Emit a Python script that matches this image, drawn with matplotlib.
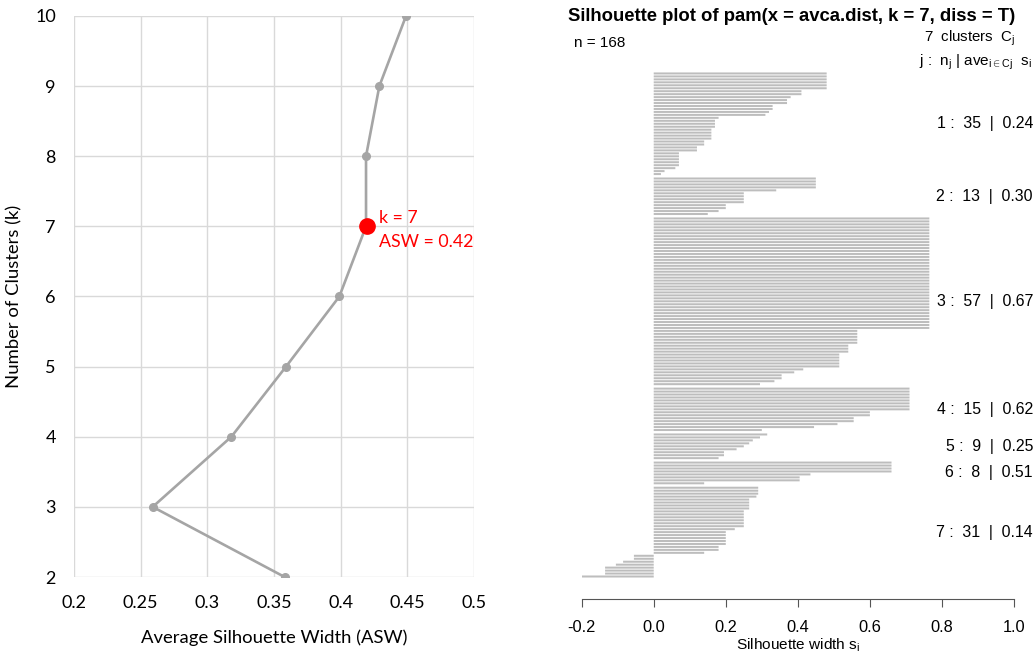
import matplotlib
matplotlib.use('Agg')
import matplotlib.pyplot as plt
from matplotlib.transforms import blended_transform_factory

# left panel: ASW per k
k_values = [2, 3, 4, 5, 6, 7, 8, 9, 10]
asw = [0.358, 0.259, 0.318, 0.359, 0.399, 0.419, 0.419, 0.429, 0.449]
best_k = 7
best_asw = 0.42

# right panel: silhouette widths per cluster (sorted as in the plot)
sil_c1 = [0.48, 0.48, 0.48, 0.48, 0.48, 0.48, 0.41, 0.41, 0.38, 0.37, 0.37, 0.33,
          0.33, 0.32, 0.31, 0.18, 0.17, 0.17, 0.17, 0.16, 0.16, 0.16, 0.16, 0.14,
          0.14, 0.12, 0.12, 0.07, 0.07, 0.07, 0.07, 0.07, 0.06, 0.03, 0.02]
sil_c2 = [0.45, 0.45, 0.45, 0.45, 0.34, 0.25, 0.25, 0.25, 0.25, 0.20, 0.20, 0.18, 0.15]
sil_c3 = [0.765, 0.765, 0.765, 0.765, 0.765, 0.765, 0.765, 0.765, 0.765, 0.765,
          0.765, 0.765, 0.765, 0.765, 0.765, 0.765, 0.765, 0.765, 0.765, 0.765,
          0.765, 0.765, 0.765, 0.765, 0.765, 0.765, 0.765, 0.765, 0.765, 0.765,
          0.765, 0.765, 0.765, 0.765, 0.765, 0.765, 0.765, 0.765,
          0.565, 0.565, 0.565, 0.565, 0.565, 0.54, 0.54, 0.54,
          0.515, 0.515, 0.515, 0.515, 0.515, 0.415, 0.39, 0.355, 0.355, 0.335, 0.295]
sil_c4 = [0.71, 0.71, 0.71, 0.71, 0.71, 0.71, 0.71, 0.71, 0.60, 0.60, 0.555, 0.555,
          0.51, 0.445, 0.30]
sil_c5 = [0.315, 0.295, 0.275, 0.265, 0.25, 0.23, 0.195, 0.195, 0.18]
sil_c6 = [0.66, 0.66, 0.66, 0.66, 0.435, 0.405, 0.405, 0.14]
sil_c7 = [0.29, 0.29, 0.29, 0.285, 0.265, 0.265, 0.265, 0.265, 0.25, 0.25, 0.25, 0.25,
          0.25, 0.25, 0.225, 0.20, 0.20, 0.20, 0.20, 0.20, 0.18, 0.18, 0.14,
          -0.055, -0.055, -0.085, -0.105, -0.135, -0.135, -0.135, -0.21]
clusters = [sil_c1, sil_c2, sil_c3, sil_c4, sil_c5, sil_c6, sil_c7]
cluster_avg = ['0.24', '0.30', '0.67', '0.62', '0.25', '0.51', '0.14']

fig = plt.figure(figsize=(10.35, 6.64), dpi=100)

# ---------- left: Excel-style line chart ----------
ax1 = fig.add_axes([0.0715, 0.131, 0.3865, 0.845])
ax1.plot(asw, k_values, color='#a5a5a5', lw=1.9, marker='o', ms=5.5, zorder=3)
ax1.plot([best_asw], [best_k], 'o', color='red', ms=11, zorder=4)
ax1.text(best_asw + 0.0085, best_k + 0.12, 'k = 7', color='red', fontsize=12.8,
         family='Lato', va='center')
ax1.text(best_asw + 0.0085, best_k - 0.23, 'ASW = 0.42', color='red', fontsize=12.8,
         family='Lato', va='center')
ax1.set_xlim(0.2, 0.5)
ax1.set_ylim(2, 10)
ax1.set_xticks([0.2, 0.25, 0.3, 0.35, 0.4, 0.45, 0.5])
ax1.set_xticklabels(['0.2', '0.25', '0.3', '0.35', '0.4', '0.45', '0.5'])
ax1.set_yticks(range(2, 11))
ax1.grid(True, color='#d9d9d9', lw=1)
ax1.set_axisbelow(True)
for s in ax1.spines.values():
    s.set_visible(False)
ax1.tick_params(length=0, pad=13, labelsize=13)
for lab in ax1.get_xticklabels() + ax1.get_yticklabels():
    lab.set_family('Lato')
ax1.set_xlabel('Average Silhouette Width (ASW)', family='Lato', fontsize=13.3, labelpad=13)
ax1.set_ylabel('Number of Clusters (k)', family='Lato', fontsize=13.3, labelpad=9)

# ---------- right: R-style silhouette plot ----------
plt.rcParams['mathtext.fontset'] = 'custom'
plt.rcParams['mathtext.rm'] = 'Liberation Sans'
plt.rcParams['mathtext.it'] = 'Liberation Sans'

ax2 = fig.add_axes([0.562, 0.0979, 0.4177, 0.7937])
pos = 0.0
centers = []
ys, widths = [], []
for vals in clusters:
    start = pos
    for v in vals:
        ys.append(pos + 0.5)
        widths.append(v)
        pos += 1
    centers.append((start + pos) / 2)
    pos += 0.5
total = pos - 0.5
ax2.hlines(ys, 0, widths, colors='#bdbdbd', lw=1.45, snap=False, antialiased=True)
ax2.set_ylim(total + 7.1, 0)
ax2.set_xlim(-0.2, 1.0)
for side in ['top', 'right', 'left']:
    ax2.spines[side].set_visible(False)
ax2.spines['bottom'].set_bounds(-0.2, 1.0)
ax2.spines['bottom'].set_color('#555555')
ax2.set_yticks([])
ax2.set_xticks([-0.2, 0.0, 0.2, 0.4, 0.6, 0.8, 1.0])
ax2.set_xticklabels(['-0.2', '0.0', '0.2', '0.4', '0.6', '0.8', '1.0'])
ax2.tick_params(axis='x', length=6, color='#555555', labelsize=11.8, pad=9)
for lab in ax2.get_xticklabels():
    lab.set_family('Liberation Sans')
ax2.set_xlabel(r'Silhouette width s$_\mathrm{i}$', family='Liberation Sans',
               fontsize=11.1, labelpad=1)

trans = blended_transform_factory(fig.transFigure, ax2.transData)
for j, (vals, c) in enumerate(zip(clusters, centers)):
    ax2.text(0.998, c, f'{j + 1} :  {len(vals)}  |  {cluster_avg[j]}', transform=trans,
             ha='right', va='center', fontsize=11.4, family='Liberation Sans', clip_on=False)

fig.text(0.549, 0.975, 'Silhouette plot of pam(x = avca.dist, k = 7, diss = T)',
         fontsize=13.3, fontweight='bold', family='Liberation Sans', va='center')
fig.text(0.555, 0.935, 'n = 168', fontsize=11, family='Liberation Sans', va='center')
fig.text(0.981, 0.942, r'7  clusters  C$_\mathrm{j}$', fontsize=10.8,
         family='Liberation Sans', va='center', ha='right')
fig.text(0.997, 0.906, r'j :  n$_\mathrm{j}$ | ave$_{\mathrm{i\in Cj}}$  s$_\mathrm{i}$',
         fontsize=11, family='Liberation Sans', va='center', ha='right')

fig.savefig('out.png', dpi=100)
